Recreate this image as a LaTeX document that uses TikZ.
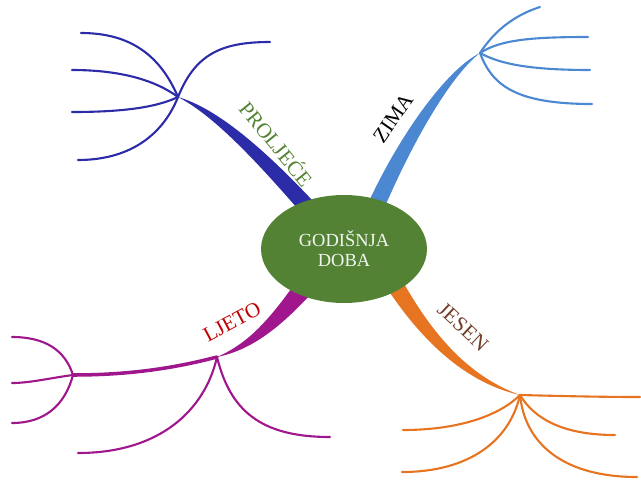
\documentclass[tikz,border=0pt]{standalone}
\usepackage{fontspec}
\setmainfont{Liberation Serif}
\usetikzlibrary{calc,backgrounds,shapes.geometric}
\definecolor{seasongreen}{RGB}{84,130,53}
\definecolor{springblue}{RGB}{44,44,168}
\definecolor{winterblue}{RGB}{76,136,210}
\definecolor{summerpink}{RGB}{160,22,140}
\definecolor{autumnorange}{RGB}{230,116,32}
\definecolor{autumnbrown}{RGB}{112,62,42}
\definecolor{summerred}{RGB}{192,0,0}
\tikzstyle{centre}=[ellipse,fill=seasongreen,inner sep=0pt,minimum width=3.32cm,minimum height=2.16cm,align=center,text=white!92!seasongreen,font=\fontsize{10.5}{11.5}\selectfont]
\tikzstyle{twig}=[line width=1.2pt,line cap=round]
\tikzstyle{season}=[inner sep=0pt,font=\fontsize{12}{14}\selectfont]

\begin{document}
\begin{tikzpicture}[x=0.02cm,y=-0.02cm]
                  \useasboundingbox (0,0) rectangle (641,480);

                  \node (god) at (344,249) [centre] {GODIŠNJA\\DOBA};

                  \coordinate (hubP) at (178,97);
                  \coordinate (hubZ) at (480,53);
                  \coordinate (hubL) at (217,357);
                  \coordinate (hubLL) at (73,375);
                  \coordinate (hubJ) at (520,395);

                  \begin{scope}[on background layer]
                  % trunks
                  \fill [springblue] ($(god.center)+(7,-6)$) .. controls (268,148) and (216.5,108.3) .. (hubP)
                        .. controls (213.5,115.7) and (256,158) .. ($(god.center)+(-7,6)$) -- cycle;
                  \fill [winterblue] ($(god.center)+(32,-20.7)$) .. controls (405.5,154.1) and (448.2,77.5) .. (hubZ)
                        .. controls (443.8,70.5) and (390.5,147.9) .. ($(god.center)+(16,-27.3)$) -- cycle;
                  \fill [summerpink] ($(god.center)+(-17.5,27.8)$) .. controls (287,321.8) and (256.3,349) .. (hubL)
                        .. controls (253.7,341) and (275,312.2) .. ($(god.center)+(-34.5,14.2)$) -- cycle;
                  \fill [autumnorange] ($(god.center)+(49,14.5)$) .. controls (426,326.6) and (463.1,374.2) .. (hubJ)
                        .. controls (460.9,381.8) and (414,333.4) .. ($(god.center)+(33,23.5)$) -- cycle;
                  \end{scope}

                  % proljece
                  \draw [twig,springblue] (hubP) .. controls (160,55) and (130,33) .. (81,33);
                  \draw [twig,springblue] (hubP) .. controls (155,80) and (120,70) .. (72,70);
                  \draw [twig,springblue] (hubP) .. controls (155,108) and (120,112) .. (72,112);
                  \draw [twig,springblue] (hubP) .. controls (165,130) and (135,160) .. (78,160);
                  \draw [twig,springblue] (hubP) .. controls (195,55) and (220,42) .. (270,42);

                  % zima
                  \draw [twig,winterblue] (hubZ) .. controls (495,30) and (515,15) .. (540,7);
                  \draw [twig,winterblue] (hubZ) .. controls (500,40) and (530,37) .. (588,37);
                  \draw [twig,winterblue] (hubZ) .. controls (500,64) and (530,70) .. (590,70);
                  \draw [twig,winterblue] (hubZ) .. controls (492,85) and (515,104) .. (592,104);

                  % ljeto
                  \draw [twig,summerpink,line width=2pt] (hubL) .. controls (175,368) and (130,375) .. (hubLL);
                  \draw [twig,summerpink] (hubLL) .. controls (65,350) and (45,337) .. (12,337);
                  \draw [twig,summerpink] (hubLL) .. controls (50,378) and (30,383) .. (12,383);
                  \draw [twig,summerpink] (hubLL) .. controls (65,405) and (45,423) .. (12,423);
                  \draw [twig,summerpink] (hubL) .. controls (205,410) and (160,453) .. (78,453);
                  \draw [twig,summerpink] (hubL) .. controls (230,410) and (260,437) .. (330,437);

                  % jesen
                  \draw [twig,autumnorange] (hubJ) .. controls (560,396) and (600,397) .. (640,397);
                  \draw [twig,autumnorange] (hubJ) .. controls (500,415) and (460,430) .. (403,430);
                  \draw [twig,autumnorange] (hubJ) .. controls (510,440) and (470,472) .. (402,472);
                  \draw [twig,autumnorange] (hubJ) .. controls (535,420) and (565,435) .. (615,435);
                  \draw [twig,autumnorange] (hubJ) .. controls (525,445) and (565,477) .. (637,477);

                  \node (lblP) at (277,143) [season,rotate=-51,text=seasongreen] {PROLJEĆE};
                  \node (lblZ) at (393,118) [season,rotate=55] {ZIMA};
                  \node (lblL) at (232,322) [season,rotate=28,text=summerred] {LJETO};
                  \node (lblJ) at (463,327) [season,rotate=-43,text=autumnbrown] {JESEN};
              \end{tikzpicture}
\end{document}
